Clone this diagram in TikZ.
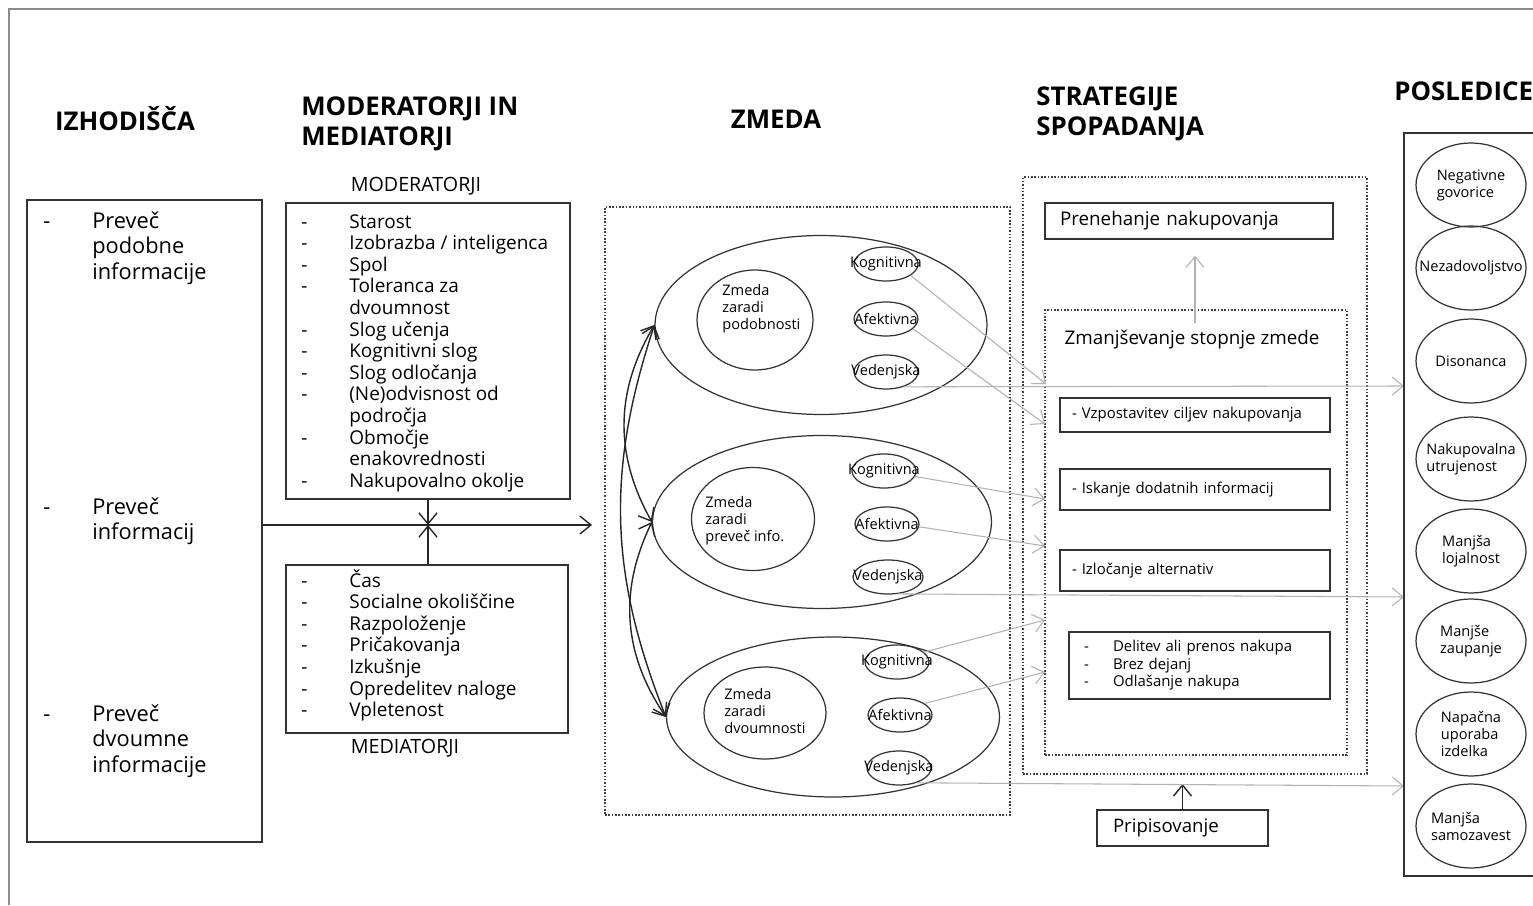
\documentclass[tikz,border=0pt]{standalone}
\usepackage{fontspec}
\setmainfont{Open Sans}
\usetikzlibrary{shapes.geometric, arrows.meta, positioning}

\newcommand{\itm}[2][9.6mm]{\makebox[#1][l]{-}#2}
\newcommand{\nxt}[2][9.6mm]{\hspace*{#1}#2}

\tikzset{
	head/.style={font=\bfseries\fontsize{14.7}{17}\selectfont, align=left, inner sep=0pt},
	capt/.style={font=\fontsize{11.2}{13}\selectfont, inner sep=0pt},
	frame/.style={draw=black!80, line width=0.8pt, inner sep=0pt},
	dotframe/.style={draw=black!75, densely dotted, line width=0.9pt, inner sep=0pt},
	biglist/.style={font=\fontsize{12.4}{14.7}\selectfont, align=left, inner sep=0pt},
	modlist/.style={font=\fontsize{10.8}{12.3}\selectfont, align=left, inner sep=0pt},
	smtxt/.style={font=\fontsize{8.3}{9.7}\selectfont, align=left, inner sep=0pt},
	stxt/.style={font=\fontsize{8.5}{10}\selectfont, align=left},
	bigell/.style={ellipse, draw=black!80, line width=0.7pt, inner sep=0pt},
	smell/.style={ellipse, draw=black!80, line width=0.7pt, inner sep=0pt,
			minimum width=12.8mm, minimum height=6.8mm, label={[smtxt]center:#1}},
	poell/.style={ellipse, draw=black!80, line width=0.7pt, inner sep=0pt,
			minimum width=22mm, minimum height=16.8mm, label={[smtxt]center:{#1}}},
	garrow/.style={draw=black!30, line width=0.6pt, ->},
	barrow/.style={draw=black!85, line width=0.8pt, ->}
}

\begin{document}
\begin{tikzpicture}[x=0.02cm, y=-0.02cm, >={Straight Barb[length=2.2mm,width=3.6mm]}]
	\useasboundingbox (0,0) rectangle (1533,905);

	% outer frame
	\draw[black!45, line width=0.8pt] (9,905) -- (9,9) -- (1533,9);

	% headings
	\node[head] (hiz) at (125,119) {IZHODIŠČA};
	\node[head, anchor=west] (hmod) at (301,124) {MODERATORJI IN\\MEDIATORJI};
	\node[head] (hzm) at (776,119) {ZMEDA};
	\node[head, anchor=west] (hstr) at (1036,114) {STRATEGIJE\\SPOPADANJA};
	\node[head, anchor=west] (hpos) at (1394,91) {POSLEDICE};

	% izhodisca
	\node[frame, minimum width=47mm, minimum height=128.4mm] (izbox) at (144.5,521) {};
	\node[biglist, anchor=north west] (iz1) at (43,211) {\itm[9.8mm]{Preveč}\\\nxt[9.8mm]{podobne}\\\nxt[9.8mm]{informacije}};
	\node[biglist, anchor=north west] (iz2) at (43,497) {\itm[9.8mm]{Preveč}\\\nxt[9.8mm]{informacij}};
	\node[biglist, anchor=north west] (iz3) at (43,704) {\itm[9.8mm]{Preveč}\\\nxt[9.8mm]{dvoumne}\\\nxt[9.8mm]{informacije}};

	% moderatorji in mediatorji
	\node[capt] (lmod) at (416,186) {MODERATORJI};
	\node[frame, minimum width=56.8mm, minimum height=59.2mm] (modbox) at (428,351) {};
	\node[modlist, anchor=north west] (modtxt) at (301,214) {\itm{Starost}\\\itm{Izobrazba / inteligenca}\\\itm{Spol}\\
		\itm{Toleranca za}\\\nxt{dvoumnost}\\\itm{Slog učenja}\\\itm{Kognitivni slog}\\\itm{Slog odločanja}\\
		\itm{(Ne)odvisnost od}\\\nxt{področja}\\\itm{Območje}\\\nxt{enakovrednosti}\\\itm{Nakupovalno okolje}};
	\node[frame, minimum width=56.4mm, minimum height=33.6mm] (medbox) at (427,649) {};
	\node[modlist, anchor=north west] (medtxt) at (301,569) {\itm{Čas}\\\itm{Socialne okoliščine}\\\itm{Razpoloženje}\\
		\itm{Pričakovanja}\\\itm{Izkušnje}\\\itm{Opredelitev naloge}\\\itm{Vpletenost}};
	\node[capt] (lmed) at (405,748) {MEDIATORJI};

	\coordinate (zin) at (592,525);
	\coordinate (xm) at (428,525);
	\draw[barrow] (izbox.east |- zin) -- (zin);
	\draw[barrow] (modbox.south -| xm) -- (xm);
	\draw[barrow] (medbox.north -| xm) -- (xm);

	% zmeda
	\node[dotframe, minimum width=81mm, minimum height=121.6mm] (zmbox) at (807.5,511) {};

	\node[bigell, minimum width=66.4mm, minimum height=35.8mm] (e1) at (821,325) {};
	\node[bigell, minimum width=23.2mm, minimum height=20mm] (c1) at (755,320) {};
	\node[smtxt, anchor=west] (t1) at (722,309) {Zmeda\\zaradi\\podobnosti};
	\node[smell=Kognitivna] (k1) at (886,264) {};
	\node[smell=Afektivna] (a1) at (886,319) {};
	\node[smell=Vedenjska] (v1) at (886,372) {};

	\node[bigell, minimum width=67.8mm, minimum height=34.6mm] (e2) at (822,522) {};
	\node[bigell, minimum width=24.6mm, minimum height=20.6mm] (c2) at (753,519) {};
	\node[smtxt, anchor=west] (t2) at (705,521) {Zmeda\\zaradi\\preveč info.};
	\node[smell=Kognitivna] (k2) at (884,471) {};
	\node[smell=Afektivna] (a2) at (887,524) {};
	\node[smell=Vedenjska, minimum width=14mm] (v2) at (888,577) {};

	\node[bigell, minimum width=66.6mm, minimum height=32mm] (e3) at (833,717) {};
	\node[bigell, minimum width=24.4mm, minimum height=18.4mm] (c3) at (765,713) {};
	\node[smtxt, anchor=west] (t3) at (724,711) {Zmeda\\zaradi\\dvoumnosti};
	\node[smell=Kognitivna] (k3) at (897,662) {};
	\node[smell=Afektivna] (a3) at (900,715) {};
	\node[smell=Vedenjska] (v3) at (899,768) {};

	\draw[barrow, <->] (e1.west) to[bend right=30] (e2.west);
	\draw[barrow, <->] (e2.west) to[bend right=30] (e3.west);
	\draw[barrow, <->] (e1.west) to[bend right=20] (e3.west);

	% strategije spopadanja
	\node[dotframe, minimum width=68.8mm, minimum height=119.4mm] (strbox) at (1195,475.5) {};
	\node[frame, minimum width=57.6mm, minimum height=7.2mm, text width=51.6mm, align=left,
		font=\fontsize{10.7}{12}\selectfont] (pren) at (1189,221) {Prenehanje nakupovanja};
	\node[dotframe, minimum width=60.4mm, minimum height=89mm] (inbox) at (1196,532.5) {};
	\node[font=\fontsize{10.7}{12}\selectfont, inner sep=0pt] (zman) at (1192,340) {Zmanjševanje stopnje zmede};
	\draw[garrow, shorten >=3.2mm, shorten <=1.4mm] (zman.north -| 1195,0) -- (pren.south -| 1195,0);

	\node[frame, stxt, minimum width=54mm, minimum height=6.8mm, text width=49.2mm] (s1) at (1195,415) {- Vzpostavitev ciljev nakupovanja};
	\node[frame, stxt, minimum width=54mm, minimum height=8.2mm, text width=49.2mm] (s2) at (1195,489.5) {- Iskanje dodatnih informacij};
	\node[frame, stxt, minimum width=54mm, minimum height=8.2mm, text width=49.2mm] (s3) at (1195,570.5) {- Izločanje alternativ};
	\node[frame, stxt, minimum width=52.2mm, minimum height=13.4mm, text width=46.2mm] (s4) at (1199.5,665.5)
		{\itm[5.8mm]{Delitev ali prenos nakupa}\\\itm[5.8mm]{Brez dejanj}\\\itm[5.8mm]{Odlašanje nakupa}};

	\node[frame, minimum width=34.2mm, minimum height=7.2mm, text width=27.8mm, align=left,
		font=\fontsize{10.6}{12}\selectfont] (prip) at (1182.5,828) {Pripisovanje};
	\coordinate (ptip) at (1182.5,784);
	\draw[barrow] (prip.north) -- (ptip);

	% gray connectors
	\coordinate (g1) at (1046,384);
	\coordinate (g2) at (1045,424);
	\coordinate (g3) at (1045,499);
	\coordinate (g4) at (1045,546);
	\coordinate (g5) at (1045,620);
	\coordinate (g6) at (1045,672);
	\coordinate (p1) at (1404,386);
	\coordinate (p2) at (1404,597);
	\coordinate (p3) at (1404,786);
	\draw[garrow] (k1.-25) -- (g1);
	\draw[garrow] (a1.-20) -- (g2);
	\draw[garrow] (k2.-10) -- (g3);
	\draw[garrow] (a2.-5) -- (g4);
	\draw[garrow] (k3.20) -- (g5);
	\draw[garrow] (a3.25) -- (g6);
	\draw[garrow] (v1.-40) -- (p1);
	\draw[garrow] (v2.-60) -- (p2);
	\draw[garrow] (v3.-40) -- (p3);

	% posledice
	\node[frame, minimum width=31.2mm, minimum height=148.6mm] (pobox) at (1482,504.5) {};
	\node[poell={Negativne\\govorice}] (o1) at (1471,185) {};
	\node[poell={Nezadovoljstvo}] (o2) at (1471,268) {};
	\node[poell={Disonanca}] (o3) at (1471,361) {};
	\node[poell={Nakupovalna\\utrujenost}] (o4) at (1471,459) {};
	\node[poell={Manjša\\lojalnost}] (o5) at (1471,551) {};
	\node[poell={Manjše\\zaupanje}] (o6) at (1471,641) {};
	\node[poell={Napačna\\uporaba\\izdelka}] (o7) at (1471,734) {};
	\node[poell={Manjša\\samozavest}] (o8) at (1471,826) {};

\end{tikzpicture}
\end{document}
